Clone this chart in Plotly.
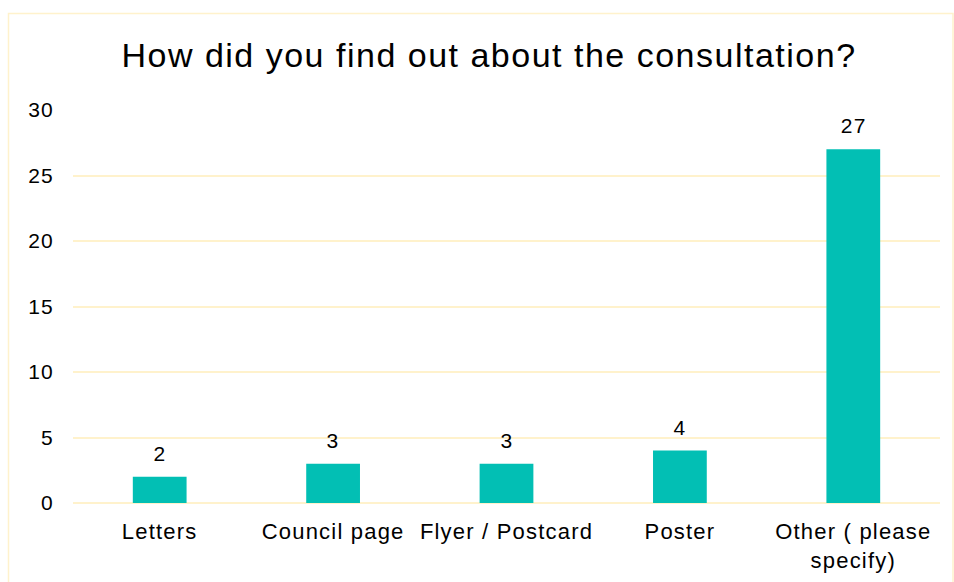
import plotly.graph_objects as go

categories = ["Letters", "Council page", "Flyer / Postcard", "Poster", "Other ( please<br>specify)"]
values = [2, 3, 3, 4, 27]
y_ticks = [0, 5, 10, 15, 20, 25, 30]

W, H = 954, 582
L, R, T, B = 73, 14, 110, 79
FONT = "Liberation Sans, Arial, sans-serif"

fig = go.Figure(go.Bar(
    x=categories, y=values,
    marker=dict(color="#02BFB4", line=dict(width=0)),
    cliponaxis=False,
))

for c, v in zip(categories, values):
    fig.add_annotation(x=c, y=v, text=str(v), showarrow=False, yanchor="bottom",
                       yshift=10, font=dict(family=FONT, size=21, color="#000000"))

pw = W - L - R
ph = H - T - B
def px_x(p): return (p - L) / pw
def px_y(p): return (H - B - p) / ph

fig.add_shape(type="rect", xref="paper", yref="paper",
              x0=px_x(8.5), x1=px_x(953), y0=px_y(600), y1=px_y(13.5),
              line=dict(color="#FFF2CC", width=1.5), fillcolor="rgba(0,0,0,0)", layer="below")

fig.update_layout(
    width=W, height=H,
    margin=dict(l=L, r=R, t=T, b=B, autoexpand=False),
    paper_bgcolor="white", plot_bgcolor="white",
    bargap=0.69,
    showlegend=False,
    title=dict(text="How did you find out about the consultation?", x=px_x(489), xref="paper",
               xanchor="center", y=1 - 55 / H, yanchor="middle",
               font=dict(family=FONT, size=34, color="#000000")),
    font=dict(family=FONT, size=21, color="#000000"),
)
fig.update_xaxes(showgrid=False, showline=False, ticks="", tickfont=dict(size=22), ticklabelstandoff=13)
fig.update_yaxes(range=[0, 30], tickvals=y_ticks, showgrid=True, gridcolor="#FFF2CC", gridwidth=1.5,
                 zeroline=True, zerolinecolor="#FFF2CC", zerolinewidth=1.5, showline=False,
                 tickfont=dict(size=21), ticks="", ticklabelstandoff=18)

post = """
document.body.style.margin = '0';
var gd = document.getElementById('{plot_id}');
gd.querySelectorAll('text').forEach(function(t){ t.style.letterSpacing = '1.2px'; });
gd.querySelectorAll('.gtitle').forEach(function(t){ t.style.letterSpacing = '1.5px'; });
"""
fig.write_html("out.html", post_script=post, config={"displayModeBar": False})
